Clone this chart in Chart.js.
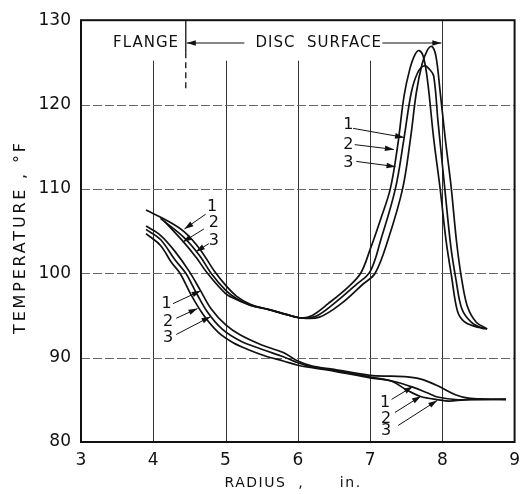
<!DOCTYPE html>
<html>
<head>
<meta charset="utf-8">
<script src="https://cdn.jsdelivr.net/npm/chart.js@4.4.1/dist/chart.umd.min.js"></script>
<style>
  html, body { margin: 0; padding: 0; background: #fff; }
  #wrap { width: 528px; height: 494px; }
</style>
</head>
<body>
<div id="wrap"><canvas id="chart"></canvas></div>
<script>
// radius (in.) vs temperature (F), three runs per group
const upper1 = [[3.90,107.5],[4.20,106.2],[4.43,104.9],[4.65,102.8],[4.85,100.2],[5.00,98.6],[5.15,97.3],[5.35,96.3],[5.60,95.7],[5.85,95.1],[6.05,94.7],[6.20,95.0],[6.42,96.4],[6.70,98.4],[6.87,100.0],[7.00,102.8],[7.15,106.5],[7.28,110.0],[7.38,115.0],[7.47,121.0],[7.55,124.2],[7.62,125.9],[7.68,126.4],[7.74,125.6],[7.80,122.5],[7.88,116.0],[7.97,110.0],[8.05,104.0],[8.13,99.5],[8.21,95.5],[8.30,94.3],[8.45,93.7],[8.57,93.5]];
const upper2 = [[4.10,106.5],[4.43,104.2],[4.65,102.0],[4.80,100.0],[5.00,98.0],[5.15,97.0],[5.35,96.2],[5.60,95.7],[5.85,95.1],[6.05,94.7],[6.25,94.9],[6.50,96.4],[6.80,98.6],[7.00,100.2],[7.15,104.0],[7.35,110.0],[7.47,116.0],[7.57,121.4],[7.66,123.8],[7.75,124.6],[7.82,124.2],[7.88,123.4],[7.94,118.0],[8.03,110.4],[8.12,103.0],[8.19,99.2],[8.27,95.8],[8.40,94.2],[8.55,93.5],[8.62,93.4]];
const upper3 = [[4.15,106.2],[4.43,103.6],[4.60,101.8],[4.75,100.0],[5.00,97.6],[5.15,96.9],[5.35,96.2],[5.60,95.7],[5.85,95.1],[6.05,94.7],[6.30,94.8],[6.60,96.4],[6.90,98.7],[7.07,100.0],[7.25,104.0],[7.45,110.0],[7.56,116.0],[7.64,121.4],[7.72,124.8],[7.79,126.4],[7.85,126.9],[7.91,125.8],[7.97,121.5],[8.04,116.0],[8.12,110.4],[8.20,103.5],[8.27,99.2],[8.35,96.0],[8.47,94.2],[8.62,93.4]];
const lower1 = [[3.90,105.6],[4.10,104.5],[4.30,102.6],[4.50,100.2],[4.65,98.0],[4.80,95.8],[5.00,93.9],[5.20,92.7],[5.50,91.5],[5.80,90.6],[6.00,89.6],[6.20,89.0],[6.50,88.6],[7.00,87.9],[7.30,87.8],[7.55,87.7],[7.73,87.4],[7.95,86.6],[8.18,85.6],[8.36,85.2],[8.60,85.1],[8.88,85.05]];
const lower2 = [[3.90,105.2],[4.10,104.0],[4.30,101.6],[4.45,100.0],[4.60,97.6],[4.75,95.4],[4.95,93.4],[5.20,92.0],[5.50,91.0],[5.80,90.1],[6.00,89.4],[6.20,88.9],[6.50,88.5],[7.00,87.7],[7.32,87.2],[7.59,86.5],[7.80,85.8],[7.95,85.3],[8.22,85.0],[8.40,85.05],[8.88,85.05]];
const lower3 = [[3.90,104.7],[4.10,103.3],[4.25,101.3],[4.37,100.0],[4.52,97.5],[4.70,95.0],[4.90,93.0],[5.10,91.8],[5.30,91.0],[5.55,90.2],[5.80,89.6],[6.00,89.1],[6.20,88.8],[6.50,88.4],[7.00,87.6],[7.30,87.2],[7.50,86.2],[7.70,85.4],[7.95,85.0],[8.10,84.85],[8.30,85.0],[8.88,85.05]];

const xTicks = [3, 4, 5, 6, 7, 8, 9];
const yTicks = [80, 90, 100, 110, 120, 130];

// call-out digits and their arrows: [fromX, fromY, tipX, tipY]
const runDigits = ['1', '2', '3'];
const upperLeftLabels = [[4.815, 107.9], [4.838, 106.0], [4.838, 103.9]];
const upperLeftArrows = [[4.724, 107.0, 4.432, 105.25], [4.70, 105.25, 4.409, 103.71], [4.77, 103.52, 4.589, 102.55]];
const upperRightLabels = [[6.698, 117.56], [6.698, 115.25], [6.698, 113.14]];
const upperRightArrows = [[6.765, 117.18, 7.47, 116.1], [6.788, 115.25, 7.33, 114.68], [6.81, 113.26, 7.352, 112.64]];
const lowerLeftLabels = [[4.183, 96.4], [4.205, 94.28], [4.205, 92.36]];
const lowerLeftArrows = [[4.273, 96.4, 4.657, 97.93], [4.318, 94.67, 4.612, 95.82], [4.318, 92.74, 4.792, 94.86]];
const lowerRightLabels = [[7.208, 84.65], [7.222, 82.74], [7.222, 81.30]];
const lowerRightArrows = [[7.298, 85.05, 7.592, 86.58], [7.344, 83.5, 7.704, 85.43], [7.389, 81.96, 7.93, 84.93]];

// zone markers along the top
const flangeEdge = 4.45;
const discEnd = 8;
const zoneY = 127.3;
const flangeLabelX = 3.9;
const discLabelX = 6.29;
const gridTop = 125.2;

const FONT = '"DejaVu Sans", sans-serif';
const INK = '#111';

const line = (pts) => ({
  data: pts.map(([x, y]) => ({ x, y })),
  showLine: true,
  borderColor: INK,
  borderWidth: 1.7,
  pointRadius: 0,
  fill: false,
  tension: 0.35
});

function arrow(ctx, x0, y0, x1, y1) {
  const a = Math.atan2(y1 - y0, x1 - x0), L = 9, W = 2.8;
  ctx.beginPath(); ctx.moveTo(x0, y0); ctx.lineTo(x1, y1); ctx.stroke();
  ctx.beginPath();
  ctx.moveTo(x1, y1);
  ctx.lineTo(x1 - L * Math.cos(a) + W * Math.sin(a), y1 - L * Math.sin(a) - W * Math.cos(a));
  ctx.lineTo(x1 - L * Math.cos(a) - W * Math.sin(a), y1 - L * Math.sin(a) + W * Math.cos(a));
  ctx.closePath(); ctx.fill();
}

const paper = {
  id: 'paper',
  beforeDatasetsDraw(chart) {
    const { ctx, chartArea: a, scales: { x, y } } = chart;
    ctx.save();
    ctx.strokeStyle = '#333';
    ctx.lineWidth = 1;
    xTicks.slice(1, -1).forEach(v => {
      const px = Math.round(x.getPixelForValue(v)) + 0.5;
      const top = v === discEnd ? a.top : y.getPixelForValue(gridTop);
      ctx.beginPath(); ctx.moveTo(px, top); ctx.lineTo(px, a.bottom); ctx.stroke();
    });
    ctx.strokeStyle = '#666';
    ctx.setLineDash([9, 3]);
    yTicks.slice(1, -1).forEach(v => {
      const py = Math.round(y.getPixelForValue(v)) + 0.5;
      ctx.beginPath(); ctx.moveTo(a.left, py); ctx.lineTo(a.right, py); ctx.stroke();
    });
    ctx.restore();
  },
  afterDraw(chart) {
    const { ctx, chartArea: a, scales: { x, y } } = chart;
    const X = v => x.getPixelForValue(v), Y = v => y.getPixelForValue(v);
    ctx.save();
    ctx.strokeStyle = INK; ctx.fillStyle = INK;
    ctx.lineWidth = 2;
    ctx.strokeRect(a.left, a.top, a.right - a.left, a.bottom - a.top);

    // flange / disc surface markers
    ctx.lineWidth = 1.3;
    const fx = X(flangeEdge);
    ctx.beginPath(); ctx.moveTo(fx, a.top); ctx.lineTo(fx, Y(126.2)); ctx.stroke();
    ctx.setLineDash([6, 4]);
    ctx.beginPath(); ctx.moveTo(fx, Y(126.2)); ctx.lineTo(fx, Y(121.8)); ctx.stroke();
    ctx.setLineDash([]);
    ctx.font = '15px ' + FONT;
    ctx.letterSpacing = '1px';
    ctx.textBaseline = 'middle';
    ctx.textAlign = 'center';
    ctx.fillText('FLANGE', X(flangeLabelX), Y(zoneY));
    ctx.fillText('DISC  SURFACE', X(discLabelX), Y(zoneY));
    ctx.lineWidth = 1.2;
    arrow(ctx, X(5.26), Y(zoneY), fx + 1, Y(zoneY));
    arrow(ctx, X(7.17), Y(zoneY), X(discEnd) - 1, Y(zoneY));

    // run call-outs
    ctx.letterSpacing = '0px';
    ctx.font = '16px ' + FONT;
    ctx.lineWidth = 1;
    [[upperLeftLabels, upperLeftArrows], [upperRightLabels, upperRightArrows],
     [lowerLeftLabels, lowerLeftArrows], [lowerRightLabels, lowerRightArrows]].forEach(([labs, arrs]) => {
      labs.forEach(([lx, ly], i) => ctx.fillText(runDigits[i], X(lx), Y(ly)));
      arrs.forEach(([x0, y0, x1, y1]) => arrow(ctx, X(x0), Y(y0), X(x1), Y(y1)));
    });

    // axis titles
    ctx.font = '14px ' + FONT;
    ctx.letterSpacing = '1.5px';
    ctx.textAlign = 'left';
    ctx.fillText('RADIUS  ,      in.', X(5) - 1, 483);
    ctx.translate(21, (a.top + a.bottom) / 2 + 6);
    ctx.rotate(-Math.PI / 2);
    ctx.font = '16px ' + FONT;
    ctx.letterSpacing = '2.8px';
    ctx.textAlign = 'center';
    ctx.fillText('TEMPERATURE , °F', 0, 0);
    ctx.restore();
  }
};

new Chart(document.getElementById('chart'), {
  type: 'scatter',
  data: { datasets: [upper1, upper2, upper3, lower1, lower2, lower3].map(line) },
  options: {
    responsive: true,
    maintainAspectRatio: false,
    animation: false,
    events: [],
    layout: { autoPadding: false, padding: { top: 9, right: 4, left: 0, bottom: 0 } },
    plugins: { legend: { display: false }, tooltip: { enabled: false } },
    scales: {
      x: {
        type: 'linear', min: 3, max: 9,
        afterFit: s => { s.height = 52; },
        afterBuildTicks: s => { s.ticks = xTicks.map(v => ({ value: v })); },
        grid: { display: false, drawTicks: false },
        border: { display: false },
        ticks: { padding: 8, color: INK, font: { family: FONT, size: 17 } }
      },
      y: {
        type: 'linear', min: 80, max: 130,
        afterFit: s => { s.width = 81; },
        afterBuildTicks: s => { s.ticks = yTicks.map(v => ({ value: v })); },
        grid: { display: false, drawTicks: false },
        border: { display: false },
        ticks: { padding: 10, color: INK, font: { family: FONT, size: 17 } }
      }
    }
  },
  plugins: [paper]
});
</script>
</body>
</html>
